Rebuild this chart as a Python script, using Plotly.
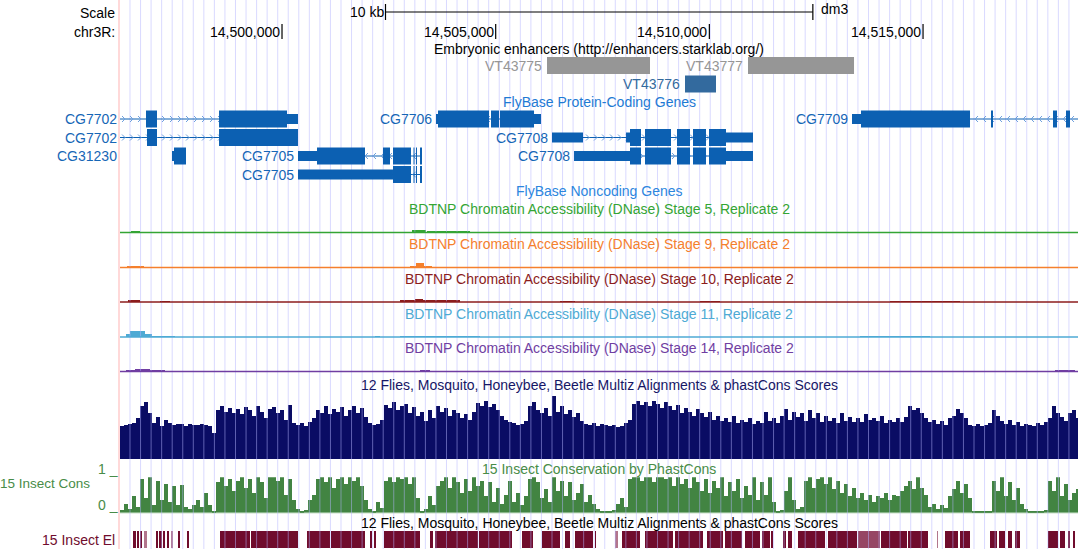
import plotly.graph_objects as go

# ---------------- data ----------------
CHROM = "chr3R"
ASSEMBLY = "dm3"
VIEW_START = 14496209
VIEW_END = 14518626
SCALE_BAR_BP = 10000

tick_positions = [14500000, 14505000, 14510000, 14515000]

enh_names = ["VT43775", "VT43776", "VT43777"]
enh_starts = [14506201, 14509430, 14510904]
enh_ends = [14508611, 14510155, 14513385]
enh_active = [False, True, False]

tx_names = ["CG7702", "CG7702", "CG31230", "CG7705", "CG7705", "CG7706", "CG7708", "CG7708", "CG7709"]
tx_strands = ["+", "+", "+", "-", "-", "-", "+", "+", "-"]
tx_starts = [14495600, 14495600, 14497426, 14500374, 14500374, 14503603, 14506318, 14506833, 14513338]
tx_ends = [14500374, 14500374, 14497753, 14503276, 14503276, 14506060, 14511021, 14511021, 14519300]
cds_starts = [14495800, 14495800, 14497473, 14500819, 14502597, 14503650, 14508143, 14508143, 14513548]
cds_ends = [14500117, 14500374, 14497753, 14503276, 14503276, 14505897, 14510389, 14510389, 14519200]
exon_starts = [
    [14495600, 14496817, 14498526],
    [14495600, 14496841, 14498526],
    [14497426],
    [14500374, 14502363, 14502597, 14503077, 14503135, 14503229],
    [14500374, 14503077, 14503135, 14503229],
    [14503603, 14504890, 14505101],
    [14506318, 14508050, 14508494, 14509243, 14509617, 14509992],
    [14506833, 14508494, 14509243, 14509617, 14509992],
    [14513338, 14516590, 14518041, 14518345, 14519100],
]
exon_ends = [
    [14495700, 14497075, 14500374],
    [14495700, 14497075, 14500374],
    [14497753],
    [14501942, 14502527, 14503018, 14503100, 14503159, 14503276],
    [14503018, 14503100, 14503159, 14503276],
    [14504844, 14505078, 14506060],
    [14507043, 14508400, 14509102, 14509547, 14509921, 14511021],
    [14508400, 14509102, 14509547, 14509921, 14511021],
    [14516099, 14516637, 14518135, 14518439, 14519300],
]

# DNase accessibility signal: (start, end, signal)
dnase_stage5 = [(14496466, 14496677, 2), (14502761, 14502995, 1), (14503042, 14503369, 3),
                (14503393, 14504399, 1.5), (14504633, 14504984, 1), (14506856, 14507020, 1),
                (14507722, 14507956, 1), (14509547, 14509781, 1), (14513759, 14513876, 1)]
dnase_stage9 = [(14496373, 14496771, 2.5), (14502995, 14503135, 2), (14503135, 14503323, 5),
                (14503323, 14503510, 2), (14503510, 14503697, 1), (14508377, 14508424, 1)]
dnase_stage10 = [(14496396, 14496677, 2), (14497145, 14497379, 1), (14502761, 14503112, 1.5),
                 (14503112, 14503299, 3.5), (14503299, 14504165, 1.5), (14506505, 14506856, 1),
                 (14509781, 14510249, 1), (14514227, 14515865, 1)]
dnase_stage11 = [(14496349, 14496443, 3), (14496443, 14496794, 6), (14496794, 14496958, 3),
                 (14496958, 14497496, 1), (14502176, 14502293, 1), (14502761, 14504633, 1),
                 (14513525, 14515163, 1)]
dnase_stage14 = [(14496349, 14496560, 2), (14496560, 14496911, 3.5), (14496911, 14497262, 2),
                 (14501123, 14501240, 1), (14503229, 14503463, 1.5), (14506388, 14506856, 1),
                 (14518088, 14518556, 1.5)]

# Multiz / phastCons summary, bins of 93.6 bp from VIEW_START
CONS_BIN_BP = 93.6
multiz_scores = [
    0.50, 0.52, 0.53, 0.55, 0.62, 0.80, 0.87, 0.70, 0.55, 0.64, 0.50, 0.60, 0.55, 0.52, 0.54, 0.53,
    0.50, 0.54, 0.52, 0.51, 0.53, 0.52, 0.50, 0.40, 0.75, 0.80, 0.72, 0.78, 0.70, 0.76, 0.68, 0.79,
    0.74, 0.66, 0.80, 0.71, 0.62, 0.76, 0.79, 0.70, 0.74, 0.60, 0.82, 0.55, 0.52, 0.55, 0.50, 0.56,
    0.62, 0.75, 0.70, 0.80, 0.68, 0.76, 0.72, 0.79, 0.66, 0.74, 0.81, 0.70, 0.77, 0.64, 0.55, 0.52,
    0.54, 0.60, 0.82, 0.78, 0.86, 0.74, 0.80, 0.84, 0.70, 0.79, 0.66, 0.72, 0.58, 0.75, 0.63, 0.80,
    0.72, 0.78, 0.66, 0.74, 0.70, 0.62, 0.68, 0.60, 0.72, 0.85, 0.80, 0.88, 0.79, 0.83, 0.75, 0.66,
    0.60, 0.56, 0.55, 0.52, 0.54, 0.58, 0.80, 0.86, 0.74, 0.70, 0.78, 0.66, 0.96, 0.72, 0.80, 0.68,
    0.74, 0.64, 0.70, 0.58, 0.54, 0.52, 0.55, 0.50, 0.53, 0.51, 0.50, 0.52, 0.48, 0.50, 0.55, 0.60,
    0.84, 0.88, 0.82, 0.86, 0.80, 0.88, 0.83, 0.78, 0.86, 0.80, 0.74, 0.82, 0.70, 0.78, 0.72, 0.66,
    0.76, 0.70, 0.64, 0.72, 0.60, 0.66, 0.58, 0.62, 0.56, 0.66, 0.55, 0.60, 0.56, 0.62, 0.54, 0.58,
    0.55, 0.72, 0.58, 0.62, 0.55, 0.66, 0.76, 0.60, 0.72, 0.64, 0.70, 0.58, 0.74, 0.62, 0.70, 0.56,
    0.66, 0.58, 0.62, 0.55, 0.70, 0.58, 0.64, 0.56, 0.62, 0.57, 0.68, 0.60, 0.63, 0.58, 0.66, 0.55,
    0.60, 0.57, 0.62, 0.56, 0.64, 0.80, 0.74, 0.78, 0.70, 0.62, 0.56, 0.60, 0.54, 0.58, 0.52, 0.62,
    0.66, 0.76, 0.70, 0.62, 0.52, 0.50, 0.54, 0.50, 0.52, 0.55, 0.74, 0.66, 0.58, 0.54, 0.60, 0.52,
    0.56, 0.50, 0.54, 0.52, 0.50, 0.55, 0.52, 0.56, 0.62, 0.80, 0.70, 0.64, 0.58, 0.70, 0.74, 0.62,
]
phastcons_scores = [
    0.08, 0.25, 0.10, 0.45, 0.15, 0.95, 0.40, 1.00, 0.20, 0.90, 0.35, 0.80, 0.30, 0.75, 0.20, 0.78,
    0.15, 0.10, 0.20, 0.35, 0.15, 0.55, 0.20, 0.05, 0.85, 1.00, 0.75, 0.95, 0.60, 0.90, 1.00, 0.70,
    0.95, 0.55, 1.00, 0.85, 0.40, 1.00, 1.00, 0.90, 1.00, 0.50, 0.95, 0.35, 0.10, 0.05, 0.08, 0.35,
    0.50, 0.95, 1.00, 0.85, 1.00, 0.70, 0.95, 1.00, 0.80, 1.00, 0.90, 1.00, 0.75, 0.35, 0.10, 0.05,
    0.30, 0.12, 0.90, 1.00, 0.85, 1.00, 0.95, 1.00, 0.80, 1.00, 0.40, 0.05, 0.10, 0.45, 0.20, 0.75,
    0.90, 1.00, 0.70, 1.00, 0.85, 0.55, 0.95, 0.60, 1.00, 0.75, 0.90, 0.45, 0.85, 0.30, 0.70, 0.25,
    0.50, 0.90, 0.30, 0.55, 0.20, 0.45, 0.95, 1.00, 0.85, 0.40, 0.65, 0.30, 1.00, 0.60, 0.90, 0.45,
    0.85, 0.35, 0.55, 0.80, 0.30, 0.50, 0.25, 0.10, 0.05, 0.03, 0.05, 0.08, 0.25, 0.40, 0.15, 0.95,
    1.00, 1.00, 0.90, 1.00, 1.00, 0.85, 1.00, 1.00, 0.95, 1.00, 0.75, 1.00, 0.80, 0.95, 0.70, 1.00,
    0.85, 0.60, 0.95, 0.55, 0.90, 0.70, 1.00, 0.45, 0.85, 0.60, 0.95, 0.40, 0.75, 0.50, 1.00, 0.35,
    0.85, 0.50, 1.00, 0.30, 0.05, 0.08, 0.60, 1.00, 0.35, 0.10, 0.15, 0.90, 1.00, 0.70, 0.95, 1.00,
    0.80, 1.00, 0.65, 0.90, 0.55, 0.80, 0.45, 0.70, 0.40, 0.55, 0.35, 0.50, 0.30, 0.45, 0.40, 0.55,
    0.35, 0.50, 0.45, 0.60, 0.75, 0.90, 0.65, 1.00, 0.70, 0.50, 0.15, 0.25, 0.10, 0.20, 0.12, 0.45,
    0.65, 0.90, 0.55, 0.80, 0.40, 0.05, 0.03, 0.02, 0.04, 0.05, 0.90, 0.60, 1.00, 0.45, 0.85, 0.35,
    0.70, 0.25, 0.10, 0.05, 0.04, 0.03, 0.05, 0.08, 0.90, 0.60, 1.00, 0.45, 0.80, 0.35, 0.55, 0.65,
]

# 15 insect conserved elements
elem_starts = [14496513, 14496607, 14496689, 14496759, 14497051, 14497133, 14497215, 14497309, 14497402,
               14497566, 14497789, 14498549, 14499274, 14500585, 14501146, 14502059, 14502153, 14502387,
               14503463, 14503580, 14504610, 14505616, 14506084, 14506622, 14506856, 14507324, 14507792,
               14507956, 14508494, 14509196, 14509945, 14510366, 14510834, 14511232, 14511454, 14511723,
               14511840, 14512074, 14512776, 14513478, 14514016, 14514648, 14515327, 14515514, 14515865,
               14516567, 14516778, 14516988, 14517152, 14517924, 14518205, 14518392, 14518509]
elem_ends = [14496583, 14496665, 14496724, 14496829, 14497098, 14497180, 14497262, 14497356, 14497449,
             14497613, 14497835, 14499251, 14500374, 14501123, 14501942, 14502094, 14502188, 14503229,
             14503533, 14504586, 14505382, 14505873, 14506505, 14506739, 14507277, 14507347, 14507862,
             14508377, 14509149, 14509851, 14510319, 14510764, 14511185, 14511419, 14511489, 14511793,
             14511934, 14512706, 14513455, 14513993, 14514625, 14515116, 14515350, 14515818, 14516099,
             14516731, 14516918, 14517082, 14517269, 14518158, 14518322, 14518439, 14518556]
elem_scores = [600, 600, 600, 250, 600, 600, 600, 600, 250,
               600, 600, 600, 600, 600, 600, 600, 600, 600,
               600, 600, 600, 600, 600, 600, 600, 600, 250,
               600, 600, 600, 600, 600, 600, 600, 600, 600,
               600, 600, 600, 420, 600, 600, 250, 600, 600,
               600, 600, 600, 600, 600, 600, 600, 600]

# ---------------- layout / style ----------------
FIG_W, FIG_H = 1078, 549
LEFT_PX = 120
FONT = "Liberation Sans, Arial, Helvetica, sans-serif"
FS = 14
CHAR_PX = 7.8
BP_PER_PX = (VIEW_END - VIEW_START) / (FIG_W - LEFT_PX)

GENE_BLUE = "rgb(12,96,178)"
GENE_LABEL = "rgb(22,102,182)"
ARROW_BLUE = "rgb(110,160,222)"
GUIDE = "rgba(182,182,255,0.5)"
PINK = "rgb(255,205,205)"

ENH_ROW0_Y = 65.5
GENE_ROW0_Y = 119.0
ROW_H = 18.5
THICK = 8.5
THIN = 5.0

dnase_tracks = [
    ("BDTNP Chromatin Accessibility (DNase) Stage 5, Replicate 2", dnase_stage5, "rgb(52,165,52)", 232.5),
    ("BDTNP Chromatin Accessibility (DNase) Stage 9, Replicate 2", dnase_stage9, "rgb(245,128,45)", 267.5),
    ("BDTNP Chromatin Accessibility (DNase) Stage 10, Replicate 2", dnase_stage10, "rgb(140,28,28)", 302.0),
    ("BDTNP Chromatin Accessibility (DNase) Stage 11, Replicate 2", dnase_stage11, "rgb(78,170,212)", 337.0),
    ("BDTNP Chromatin Accessibility (DNase) Stage 14, Replicate 2", dnase_stage14, "rgb(112,62,162)", 371.5),
]

MULTIZ_TOP, MULTIZ_BASE = 393.0, 459.3
PHAST_TOP, PHAST_BASE = 477.3, 512.7
ELEM_TOP, ELEM_BASE = 531.0, 548.0


def px(bp):
    return LEFT_PX + (bp - VIEW_START) / BP_PER_PX


def pdom(top_px, bottom_px):
    return [(FIG_H - bottom_px) / FIG_H, (FIG_H - top_px) / FIG_H]


fig = go.Figure()
shapes = []
annotations = []


def text(t, x, y, color="black", anchor="center", xref="paper", size=FS):
    annotations.append(dict(
        text=t, x=(x / FIG_W if xref == "paper" else x), y=y, xref=xref, yref="y",
        xanchor=anchor, yanchor="middle", showarrow=False, borderpad=0,
        font=dict(family=FONT, size=size, color=color)))


# guidelines (one path)
gx = 130.0
path = []
while gx < FIG_W:
    path.append(f"M{gx / FIG_W:.5f},0 L{gx / FIG_W:.5f},1")
    gx += 10.55
shapes.append(dict(type="path", xref="paper", yref="paper", path=" ".join(path),
                   line=dict(color=GUIDE, width=1), layer="above"))
# left pink border
shapes.append(dict(type="line", xref="paper", yref="paper", x0=119 / FIG_W, x1=119 / FIG_W, y0=0, y1=1,
                   line=dict(color=PINK, width=1.5), layer="above"))

# ---------- scale / ruler ----------
CENTER_X = (LEFT_PX + FIG_W) / 2
text("Scale", 116, 13, anchor="right")
text(CHROM + ":", 116, 32, anchor="right")
sb_start = VIEW_START + 265.5 * BP_PER_PX
sb_end = sb_start + SCALE_BAR_BP
for x0, x1, y0, y1 in [(sb_start, sb_end, 12, 12), (sb_start, sb_start, 4, 20), (sb_end, sb_end, 4, 20)]:
    shapes.append(dict(type="line", xref="x", yref="y", x0=x0, x1=x1, y0=y0, y1=y1,
                       line=dict(color="black", width=1.2), layer="above"))
text("10 kb", sb_start - 1 * BP_PER_PX, 12, anchor="right", xref="x")
text(ASSEMBLY, sb_end + 7 * BP_PER_PX, 9, anchor="left", xref="x")
for t in tick_positions:
    shapes.append(dict(type="line", xref="x", yref="y", x0=t, x1=t, y0=24, y1=39,
                       line=dict(color="black", width=1.2), layer="above"))
    text(f"{t:,}", t - 1 * BP_PER_PX, 32, anchor="right", xref="x")

# ---------- enhancers ----------
text("Embryonic enhancers (http://enhancers.starklab.org/)", CENTER_X, 49)


def pack(names, starts, ends):
    order = sorted(range(len(names)), key=lambda i: starts[i])
    row_end = []
    rows, margin = [0] * len(names), [False] * len(names)
    for i in order:
        s = px(starts[i])
        lab = s - 4 - len(names[i]) * CHAR_PX
        in_margin = lab < LEFT_PX
        occ0 = LEFT_PX if in_margin else lab
        occ1 = min(px(ends[i]), FIG_W)
        for r, e in enumerate(row_end):
            if occ0 > e + 1:
                rows[i] = r
                row_end[r] = occ1
                break
        else:
            rows[i] = len(row_end)
            row_end.append(occ1)
        margin[i] = in_margin
    return rows, margin


erows, _ = pack(enh_names, enh_starts, enh_ends)
for i, n in enumerate(enh_names):
    y = ENH_ROW0_Y + ROW_H * erows[i]
    col = "rgb(51,106,158)" if enh_active[i] else "rgb(150,150,150)"
    shapes.append(dict(type="rect", xref="x", yref="y", x0=enh_starts[i], x1=enh_ends[i],
                       y0=y - THICK, y1=y + THICK, fillcolor=col, line=dict(width=0), layer="above"))
    text(n, enh_starts[i] - 4 * BP_PER_PX, y, color=col, anchor="right", xref="x")

# ---------- genes ----------
text("FlyBase Protein-Coding Genes", CENTER_X, 102, color="rgb(30,122,212)")
grows, gmargin = pack(tx_names, tx_starts, tx_ends)
for i, n in enumerate(tx_names):
    y = GENE_ROW0_Y + ROW_H * grows[i]
    s, e = max(tx_starts[i], VIEW_START), min(tx_ends[i], VIEW_END)
    shapes.append(dict(type="line", xref="x", yref="y", x0=s, x1=e, y0=y, y1=y,
                       line=dict(color=GENE_BLUE, width=1), layer="above"))
    # strand chevrons
    segs = []
    c = s + 4 * BP_PER_PX
    d = 2 * BP_PER_PX
    while c < e - 2 * BP_PER_PX:
        if tx_strands[i] == "+":
            segs.append(f"M{c - d:.1f},{y - 3} L{c + d / 2:.1f},{y} L{c - d:.1f},{y + 3}")
        else:
            segs.append(f"M{c + d:.1f},{y - 3} L{c - d / 2:.1f},{y} L{c + d:.1f},{y + 3}")
        c += 8 * BP_PER_PX
    if segs:
        shapes.append(dict(type="path", xref="x", yref="y", path=" ".join(segs),
                           line=dict(color=ARROW_BLUE, width=1), layer="above"))
    for es, ee in zip(exon_starts[i], exon_ends[i]):
        parts = []
        ts, te = max(es, cds_starts[i]), min(ee, cds_ends[i])
        if ts < te:
            parts.append((ts, te, THICK))
            if es < ts:
                parts.append((es, ts, THIN))
            if te < ee:
                parts.append((te, ee, THIN))
        else:
            parts.append((es, ee, THIN))
        for a, b, h in parts:
            shapes.append(dict(type="rect", xref="x", yref="y", x0=a, x1=b, y0=y - h, y1=y + h,
                               fillcolor=GENE_BLUE, line=dict(width=0), layer="above"))
    if gmargin[i]:
        text(n, 118, y, color=GENE_LABEL, anchor="right")
    else:
        text(n, tx_starts[i] - 3 * BP_PER_PX, y, color=GENE_LABEL, anchor="right", xref="x")

text("FlyBase Noncoding Genes", CENTER_X, 191, color="rgb(44,134,222)")

# ---------- DNase tracks ----------
layout_axes = {}
for k, (title, data, col, base) in enumerate(dnase_tracks):
    ax = k + 5
    text(title, CENTER_X, base - 23.5, color=col)
    fig.add_trace(go.Bar(
        x=[(a + b) / 2 for a, b, v in data], width=[b - a for a, b, v in data],
        y=[v for a, b, v in data], marker=dict(color=col, line=dict(width=0)),
        xaxis="x", yaxis=f"y{ax}", hoverinfo="skip", showlegend=False))
    layout_axes[f"yaxis{ax}"] = dict(domain=pdom(base - 20, base), range=[0, 20], visible=False,
                                     anchor="x", fixedrange=True)
    shapes.append(dict(type="line", xref="paper", yref="y", x0=LEFT_PX / FIG_W, x1=1, y0=base, y1=base,
                       line=dict(color=col, width=1.5), layer="above"))

# ---------- conservation ----------
text("12 Flies, Mosquito, Honeybee, Beetle Multiz Alignments & phastCons Scores", CENTER_X, 385,
     color="rgb(22,22,102)")
bins_x = [VIEW_START + (i + 0.5) * CONS_BIN_BP for i in range(len(multiz_scores))]
fig.add_trace(go.Bar(x=bins_x, y=multiz_scores, width=CONS_BIN_BP * 0.8,
                     marker=dict(color="rgb(10,12,100)", line=dict(width=0)),
                     xaxis="x", yaxis="y2", hoverinfo="skip", showlegend=False))
layout_axes["yaxis2"] = dict(domain=pdom(MULTIZ_TOP, MULTIZ_BASE), range=[0, 1], visible=False,
                             anchor="x", fixedrange=True)

CONS_GREEN = "rgb(72,140,72)"
text("15 Insect Conservation by PhastCons", CENTER_X, 469, color=CONS_GREEN)
text("15 Insect Cons", 91, 483, color=CONS_GREEN, anchor="right", size=13.5)
text("1 _", 97, 469, color=CONS_GREEN, anchor="left")
text("0 _", 97, 505, color=CONS_GREEN, anchor="left")
px_x = [VIEW_START + (i + 0.5) * CONS_BIN_BP for i in range(len(phastcons_scores))]
fig.add_trace(go.Bar(x=px_x, y=phastcons_scores, width=CONS_BIN_BP * 0.8,
                     marker=dict(color="rgb(66,132,66)", line=dict(width=0)),
                     xaxis="x", yaxis="y3", hoverinfo="skip", showlegend=False))
layout_axes["yaxis3"] = dict(domain=pdom(PHAST_TOP, PHAST_BASE), range=[0, 1], visible=False,
                             anchor="x", fixedrange=True)
shapes.append(dict(type="line", xref="paper", yref="y", x0=LEFT_PX / FIG_W, x1=1, y0=PHAST_BASE,
                   y1=PHAST_BASE, line=dict(color="rgb(110,165,110)", width=1), layer="below"))

text("12 Flies, Mosquito, Honeybee, Beetle Multiz Alignments & phastCons Scores", CENTER_X, 523)
text("15 Insect El", 116, 540, color="rgb(112,12,45)", anchor="right")
fig.add_trace(go.Bar(
    x=[(a + b) / 2 for a, b in zip(elem_starts, elem_ends)],
    width=[b - a for a, b in zip(elem_starts, elem_ends)],
    y=[1] * len(elem_starts),
    marker=dict(color=["rgb(112,12,45)" if s >= 500 else
                       ("rgb(150,70,100)" if s >= 400 else "rgb(178,118,140)") for s in elem_scores],
                line=dict(width=0)),
    xaxis="x", yaxis="y4", hoverinfo="skip", showlegend=False))
layout_axes["yaxis4"] = dict(domain=pdom(ELEM_TOP, ELEM_BASE), range=[0, 1], visible=False,
                             anchor="x", fixedrange=True)

fig.update_layout(
    width=FIG_W, height=FIG_H, margin=dict(l=0, r=0, t=0, b=0),
    paper_bgcolor="white", plot_bgcolor="rgba(0,0,0,0)",
    barmode="overlay", bargap=0, showlegend=False,
    xaxis=dict(domain=[LEFT_PX / FIG_W, 1], range=[VIEW_START, VIEW_END], visible=False, fixedrange=True),
    yaxis=dict(domain=[0, 1], range=[FIG_H, 0], visible=False, fixedrange=True),
    shapes=shapes, annotations=annotations, **layout_axes,
)
fig.write_html("out.html", config={"displayModeBar": False},
               post_script="document.body.style.margin='0px';document.body.style.overflow='hidden';")
